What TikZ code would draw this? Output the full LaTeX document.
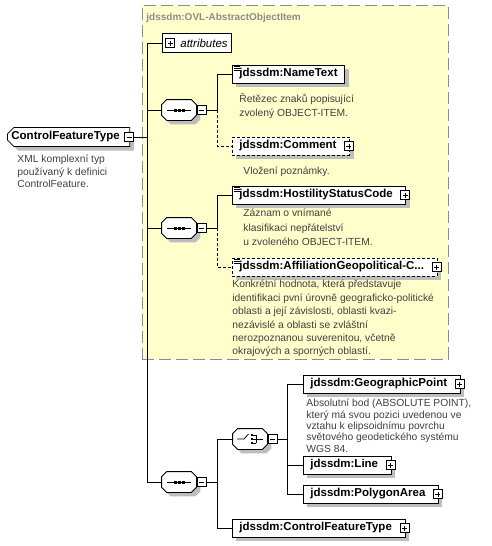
\documentclass[tikz,border=0pt]{standalone}
\usepackage{fontspec}
\setmainfont{Liberation Sans}
\usetikzlibrary{shapes.misc,shadows}
\definecolor{groupfill}{HTML}{FFFFCC}
\definecolor{groupline}{HTML}{8C8C8C}
\definecolor{shadowgray}{HTML}{BDBDBD}
\definecolor{desctext}{HTML}{404040}
\begin{document}
\begin{tikzpicture}[
  x=1pt, y=-1pt, line width=0.8pt,
  group/.style={draw=groupline, fill=groupfill, dash pattern=on 12pt off 5pt, inner sep=0pt},
  grouptitle/.style={text=groupline, font=\fontsize{10}{12}\bfseries\selectfont, anchor=west, inner sep=0pt},
  dropshade/.style={drop shadow={shadow xshift=4pt, shadow yshift=-4pt, fill=shadowgray, opacity=1}},
  elem/.style={draw, fill=white, dropshade, anchor=west, font=\fontsize{11.5}{13}\bfseries\selectfont, inner xsep=7pt, inner ysep=0pt, minimum height=18pt},
  optional/.style={dash pattern=on 3pt off 2pt},
  expand/.style={execute at end node=\hspace*{6pt}},
  simple/.style={path picture={\foreach \k in {1.5pt,3.5pt,5.5pt} \draw[solid, line width=0.6pt] ([xshift=1.5pt, yshift=-\k]path picture bounding box.north west) -- ++(6pt,0pt);}},
  desc/.style={anchor=north west, align=left, inner sep=0pt, text=desctext, font=\fontsize{10.3}{#1}\selectfont, execute at begin node=\rule{0pt}{10pt}},
  desc/.default=14pt,
  minusbox/.style={draw, solid, fill=white, inner sep=0pt, minimum size=9pt, line width=0.6pt,
    path picture={\draw ([xshift=2pt]path picture bounding box.west) -- ([xshift=-2pt]path picture bounding box.east);}},
  plusbox/.style={draw, solid, fill=white, inner sep=0pt, minimum size=9pt, line width=0.6pt,
    path picture={\draw ([xshift=2pt]path picture bounding box.west) -- ([xshift=-2pt]path picture bounding box.east);
      \draw ([yshift=2pt]path picture bounding box.south) -- ([yshift=-2pt]path picture bounding box.north);}},
  attr/.style={draw, fill=white, anchor=west, font=\fontsize{11.5}{13}\itshape\selectfont, inner xsep=4pt, inner ysep=0pt, minimum height=19pt, execute at begin node=\hspace*{14pt}},
  root/.style={chamfered rectangle, chamfered rectangle xsep=3pt, chamfered rectangle corners={north west,south west},
    draw, fill=white, dropshade, anchor=west, font=\fontsize{11.5}{13}\bfseries\selectfont, inner xsep=1pt, inner ysep=0pt, minimum height=19pt, expand},
  compositor/.style={minimum width=34pt, minimum height=20pt, inner sep=0pt,
    append after command={\pgfextra{\draw[fill=white, dropshade]
      ([xshift=5pt]\tikzlastnode.north west) -- ([xshift=-5pt]\tikzlastnode.north east)
      -- ([yshift=-5pt]\tikzlastnode.north east) -- ([yshift=5pt]\tikzlastnode.south east)
      -- ([xshift=-5pt]\tikzlastnode.south east) -- ([xshift=5pt]\tikzlastnode.south west)
      -- ([yshift=5pt]\tikzlastnode.south west) -- ([yshift=-5pt]\tikzlastnode.north west) -- cycle;}}},
  seq/.style={compositor, append after command={\pgfextra{
    \draw ([xshift=-12pt]\tikzlastnode.center) -- ([xshift=12pt]\tikzlastnode.center);
    \foreach \d in {-5.5pt,-1.5pt,2.5pt} \fill ([xshift=\d, yshift=-1.5pt]\tikzlastnode.center) rectangle ++(3pt,3pt);}}},
  choice/.style={compositor, append after command={\pgfextra{
    \draw ([xshift=-13pt]\tikzlastnode.center) -- ([xshift=-6pt]\tikzlastnode.center) -- ([xshift=-1.5pt, yshift=5pt]\tikzlastnode.center);
    \foreach \d in {4pt,0pt,-4pt} {
      \fill ([xshift=0.5pt, yshift=\d-1.3pt]\tikzlastnode.center) rectangle ++(2.6pt,2.6pt);
      \draw[line width=0.6pt] ([xshift=3pt, yshift=\d]\tikzlastnode.center) -- ([xshift=6pt, yshift=\d]\tikzlastnode.center);
    }
    \draw ([xshift=6pt, yshift=4.3pt]\tikzlastnode.center) -- ([xshift=6pt, yshift=-4.3pt]\tikzlastnode.center);
    \draw ([xshift=6pt]\tikzlastnode.center) -- ([xshift=13pt]\tikzlastnode.center);}}},
]
\useasboundingbox (0,0) rectangle (492,546);

% abstract group
\node[group, anchor=north west, minimum width=306pt, minimum height=354pt] (objItem) at (142,5) {};
\node[grouptitle] (objItemTitle) at (146,18) {jdssdm:OVL-AbstractObjectItem};

% root type
\node[root] (cfType) at (7,137) {ControlFeatureType};
\node[minusbox] (cfTypeMinus) at ([xshift=-1pt]cfType.east) {};
\node[desc=12.5pt] (cfTypeDesc) at (17,155) {XML komplexní typ\\používaný k definici\\ControlFeature.};

\node[attr] (attrs) at (162,43) {attributes};
\node[plusbox] (attrsPlus) at ([xshift=8pt]attrs.west) {};

% first sequence
\node[seq] (seqA) at (179,110) {};
\node[minusbox, anchor=west] (seqAMinus) at ([xshift=0.5pt]seqA.east) {};
\node[elem, simple] (nameText) at (232,74) {jdssdm:NameText};
\node[desc] (nameTextDesc) at (239,93.5) {Řetězec znaků popisující\\zvolený OBJECT-ITEM.};
\node[elem, optional, expand] (comment) at (232,146) {jdssdm:Comment};
\node[plusbox] (commentPlus) at ([xshift=-1pt]comment.east) {};
\node[desc] (commentDesc) at (243,164) {Vložení poznámky.};

% second sequence
\node[seq] (seqB) at (179,228) {};
\node[minusbox, anchor=west] (seqBMinus) at ([xshift=0.5pt]seqB.east) {};
\node[elem, simple, expand] (hostility) at (232,195) {jdssdm:HostilityStatusCode};
\node[plusbox] (hostilityPlus) at ([xshift=-1pt]hostility.east) {};
\node[desc=14.5pt] (hostilityDesc) at (243,209) {Záznam o vnímané\\klasifikaci nepřátelství\\u zvoleného OBJECT-ITEM.};
\node[elem, simple, optional, expand] (affiliation) at (232,267) {jdssdm:AffiliationGeopolitical-C...};
\node[plusbox] (affiliationPlus) at ([xshift=-1pt]affiliation.east) {};
\node[desc=13.4pt] (affiliationDesc) at (232,280) {Konkrétní hodnota, která představuje\\identifikaci pvní úrovně geograficko-politické\\oblasti a její závislosti, oblasti kvazi-\\nezávislé a oblasti se zvláštní\\nerozpoznanou suverenitou, včetně\\okrajových a sporných oblastí.};

% own sequence
\node[seq] (seqC) at (179,482) {};
\node[minusbox, anchor=west] (seqCMinus) at ([xshift=0.5pt]seqC.east) {};
\node[choice] (choice) at (250,439) {};
\node[minusbox, anchor=west] (choiceMinus) at ([xshift=0.5pt]choice.east) {};
\node[elem, expand] (geoPoint) at (303,384) {jdssdm:GeographicPoint};
\node[plusbox] (geoPointPlus) at ([xshift=-1pt]geoPoint.east) {};
\node[desc=11.3pt] (geoPointDesc) at (306,399) {Absolutní bod (ABSOLUTE POINT),\\který má svou pozici uvedenou ve\\vztahu k elipsoidnímu povrchu\\světového geodetického systému\\WGS 84.};
\node[elem, expand] (lineElem) at (303,465) {jdssdm:Line};
\node[plusbox] (lineElemPlus) at ([xshift=-1pt]lineElem.east) {};
\node[elem, expand] (polygon) at (303,494) {jdssdm:PolygonArea};
\node[plusbox] (polygonPlus) at ([xshift=-1pt]polygon.east) {};
\node[elem, expand] (cfTypeRef) at (232,528) {jdssdm:ControlFeatureType};
\node[plusbox] (cfTypeRefPlus) at ([xshift=-1pt]cfTypeRef.east) {};

% connectors
\coordinate (trunkTop) at (147,43);
\coordinate (forkA) at (217,110);
\coordinate (forkB) at (217,228);
\coordinate (forkC) at (217,482);
\coordinate (forkD) at (287,439);
\draw (attrs.west) -- (trunkTop) |- (seqC.west);
\draw (cfTypeMinus.east) -- (cfTypeMinus.east -| trunkTop);
\draw (trunkTop |- seqA.west) -- (seqA.west);
\draw (trunkTop |- seqB.west) -- (seqB.west);
\draw (seqAMinus.east) -- (forkA) |- (nameText.west);
\draw[optional] (forkA) |- (comment.west);
\draw (seqBMinus.east) -- (forkB) |- (hostility.west);
\draw[optional] (forkB) |- (affiliation.west);
\draw (seqCMinus.east) -- (forkC);
\draw (forkC) |- (choice.west);
\draw (forkC) |- (cfTypeRef.west);
\draw (choiceMinus.east) -- (forkD);
\draw (forkD) |- (geoPoint.west);
\draw (forkD) |- (lineElem.west);
\draw (forkD) |- (polygon.west);
\end{tikzpicture}
\end{document}
